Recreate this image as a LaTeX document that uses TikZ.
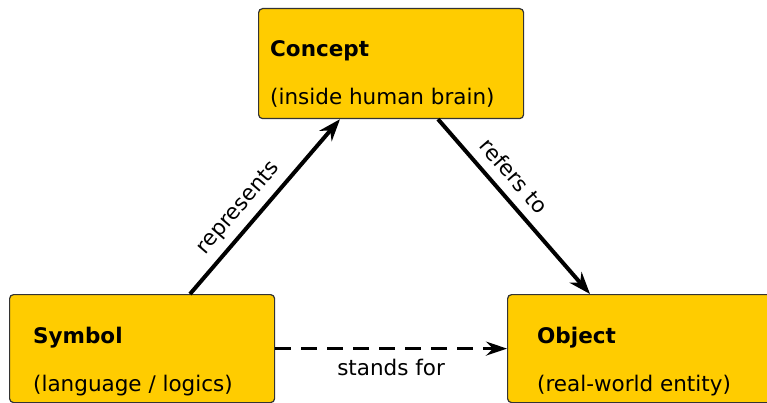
\documentclass[tikz,border=0pt]{standalone}
\usepackage{fontspec}
\setmainfont{DejaVu Sans}
\usetikzlibrary{arrows.meta}
\definecolor{boxyellow}{HTML}{FFCC00}
\tikzset{
  box/.style={draw=black!80, line width=1.2pt, fill=boxyellow, rounded corners=4pt,
    minimum width=265pt, minimum height=110pt, anchor=north west, inner sep=0pt},
  boxtext/.style={anchor=base west, inner sep=0pt, font=\fontsize{21.5}{26}\selectfont},
  titletext/.style={boxtext, font=\fontsize{21.5}{26}\selectfont\bfseries},
  arr/.style={line width=4pt, -{Stealth[length=22pt,width=16pt,inset=7pt]}},
  dasharr/.style={line width=3pt, dash pattern=on 16pt off 10pt, -{Stealth[length=21pt,width=14pt,inset=7pt]}},
  lbl/.style={font=\fontsize{21.5}{26}\selectfont, inner sep=3pt},
  slbl/.style={font=\fontsize{21.5}{26}\selectfont, sloped, above}
}
\begin{document}
\begin{tikzpicture}[x=1pt,y=-1pt]
\useasboundingbox (0,0) rectangle (767,403);
\node[box] (concept) at (258,8) {};
\node[box, minimum height=108pt] (symbol) at (9,294) {};
\node[box, minimum height=108pt] (object) at (507,294) {};
\node[titletext] (ct) at (270,57) {Concept};
\node[boxtext] (cs) at (270,105) {(inside human brain)};
\node[titletext] (st) at (33,343) {Symbol};
\node[boxtext] (ss) at (33,391) {(language / logics)};
\node[titletext] (ot) at (537,343) {Object};
\node[boxtext] (os) at (537,391) {(real-world entity)};
\draw[arr] ([xshift=181pt]symbol.north west) -- node[slbl, inner sep=7pt, pos=0.42] {represents} ([xshift=82pt]concept.south west);
\draw[arr] ([xshift=180pt]concept.south west) -- node[slbl, inner sep=10pt, pos=0.40] {refers to} ([xshift=83pt]object.north west);
\draw[dasharr] (symbol.east) -- node[lbl, below, yshift=-6pt] {stands for} (object.west);
\end{tikzpicture}
\end{document}
